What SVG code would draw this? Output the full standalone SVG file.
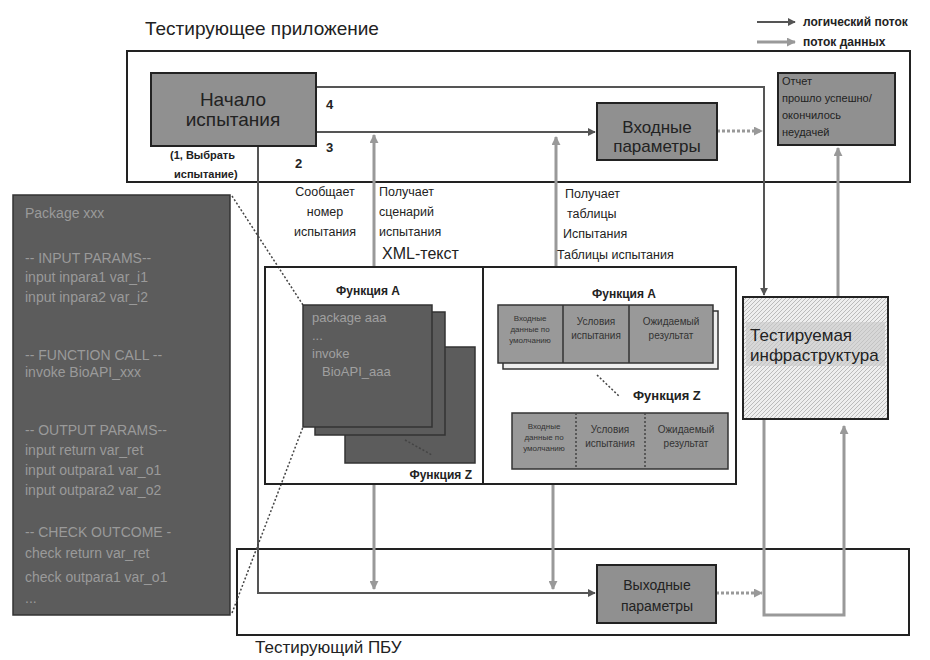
<svg xmlns="http://www.w3.org/2000/svg" width="930" height="660" viewBox="0 0 930 660">
<style>
text{font-family:"Liberation Sans",Arial,sans-serif;fill:#222}
.box{stroke:#222;stroke-width:2;fill:none}
.lg{stroke:#555;stroke-width:2;fill:none}
.df{stroke:#999;stroke-width:3;fill:none}
.dfd{stroke:#999;stroke-width:3;fill:none;stroke-dasharray:3 2}
.dot{stroke:#444;stroke-width:1.5;fill:none;stroke-dasharray:2 2}
.gray{fill:#909090;stroke:#222;stroke-width:2}
.dark{fill:#5c5c5c;stroke:#333;stroke-width:1.5}
.pk{fill:#9a9a9a;font-size:14px}
.pa{fill:#a0a0a0;font-size:13px}
.lbl{font-size:12.5px}
.b{font-weight:bold}
.tc{font-size:8px;text-anchor:middle;fill:#333}
.tc2{font-size:10px;text-anchor:middle;fill:#333}
</style>
<defs>
<marker id="al" viewBox="0 0 10 10" refX="9" refY="5" markerWidth="4" markerHeight="4" orient="auto"><path d="M0,0L10,5L0,10z" fill="#555"/></marker>
<marker id="ad" viewBox="0 0 10 10" refX="9" refY="5" markerWidth="3" markerHeight="3" orient="auto"><path d="M0,0L10,5L0,10z" fill="#999"/></marker>
<pattern id="hatch" width="4" height="4" patternUnits="userSpaceOnUse"><rect width="4" height="4" fill="#eee"/><path d="M0,4L4,0" stroke="#bbb" stroke-width="1"/></pattern>
</defs>

<text x="145" y="35" font-size="19">Тестирующее приложение</text>
<text x="255" y="653" font-size="17">Тестирующий ПБУ</text>

<g id="legend">
<line x1="757" y1="22" x2="795" y2="22" class="lg" marker-end="url(#al)"/>
<line x1="757" y1="42" x2="795" y2="42" class="df" marker-end="url(#ad)"/>
<text x="803" y="26" font-size="12" class="b">логический поток</text>
<text x="803" y="46" font-size="12" class="b">поток данных</text>
</g>

<g id="app-container"><rect x="127" y="51" width="783" height="131" class="box"/></g>
<g id="pbu-container"><rect x="237" y="549" width="672" height="86" class="box"/></g>

<g id="connectors">
<polyline points="316,87 764,87 764,295" class="lg" marker-end="url(#al)"/>
<line x1="316" y1="132" x2="595" y2="132" class="lg" marker-end="url(#al)"/>
<line x1="717" y1="131" x2="762" y2="131" class="dfd" marker-end="url(#ad)"/>
<line x1="374" y1="267" x2="374" y2="135" class="df" marker-end="url(#ad)"/>
<line x1="556" y1="267" x2="556" y2="137" class="df" marker-end="url(#ad)"/>
<line x1="838" y1="297" x2="838" y2="148" class="df" marker-end="url(#ad)"/>
<polyline points="258,146 258,593 595,593" class="lg" marker-end="url(#al)"/>
<line x1="374" y1="484" x2="374" y2="589" class="df" marker-end="url(#ad)"/>
<line x1="553" y1="484" x2="553" y2="589" class="df" marker-end="url(#ad)"/>
<line x1="716" y1="593" x2="762" y2="593" class="dfd" marker-end="url(#ad)"/>
<polyline points="764,419 764,615 844,615 844,426" class="df" marker-end="url(#ad)"/>
<line x1="232" y1="196" x2="303" y2="305" class="dot"/>
<line x1="232" y1="613" x2="303" y2="427" class="dot"/>
</g>

<g id="start">
<rect x="151" y="73" width="165" height="73" class="gray"/>
<text x="233" y="106" font-size="19" text-anchor="middle">Начало</text>
<text x="233" y="126" font-size="19" text-anchor="middle">испытания</text>
</g>
<text x="170" y="159" font-size="11" class="b">(1, Выбрать</text>
<text x="174" y="178" font-size="11" class="b">испытание)</text>
<text x="326" y="109" font-size="13" class="b">4</text>
<text x="326" y="152" font-size="13" class="b">3</text>
<text x="295" y="168" font-size="13" class="b">2</text>

<g id="input-params">
<rect x="597" y="103" width="120" height="57" class="gray"/>
<text x="657" y="133" font-size="17" text-anchor="middle">Входные</text>
<text x="657" y="152" font-size="17" text-anchor="middle">параметры</text>
</g>

<g id="report">
<rect x="778" y="73" width="117" height="72" class="gray"/>
<text x="782" y="85" font-size="11">Отчет</text>
<text x="782" y="102" font-size="11">прошло успешно/</text>
<text x="782" y="119" font-size="11">окончилось</text>
<text x="782" y="136" font-size="11">неудачей</text>
</g>

<text x="325" y="196" class="lbl" text-anchor="middle">Сообщает</text>
<text x="325" y="216" class="lbl" text-anchor="middle">номер</text>
<text x="325" y="236" class="lbl" text-anchor="middle">испытания</text>
<text x="379" y="196" class="lbl">Получает</text>
<text x="379" y="216" class="lbl">сценарий</text>
<text x="379" y="236" class="lbl">испытания</text>
<text x="382" y="259" font-size="16">XML-текст</text>
<text x="565" y="198" class="lbl">Получает</text>
<text x="567" y="218" class="lbl">таблицы</text>
<text x="563" y="238" class="lbl">Испытания</text>
<text x="557" y="259" class="lbl">Таблицы испытания</text>

<g id="scenario-box">
<rect x="265" y="267" width="471" height="217" class="box" stroke-width="1.5"/>
<line x1="483" y1="267" x2="483" y2="484" class="box" stroke-width="1.5"/>
</g>

<g id="scripts">
<text x="368" y="295" font-size="12" class="b" text-anchor="middle">Функция A</text>
<rect x="345" y="347" width="130" height="116" class="dark"/>
<rect x="315" y="312" width="130" height="123" class="dark"/>
<rect x="303" y="305" width="129" height="122" class="dark"/>
<line x1="405" y1="440" x2="432" y2="455" class="dot" stroke="#888"/>
<text x="312" y="322" class="pa">package aaa</text>
<text x="312" y="340" class="pa">...</text>
<text x="312" y="358" class="pa">invoke</text>
<text x="322" y="376" class="pa">BioAPI_aaa</text>
<text x="472" y="479" font-size="12" class="b" text-anchor="end">Функция Z</text>
</g>

<g id="tables">
<text x="624" y="298" font-size="12" class="b" text-anchor="middle">Функция A</text>
<rect x="503" y="311" width="215" height="58" fill="#eee" stroke="#333" stroke-width="1.5"/>
<rect x="498" y="305" width="215" height="58" fill="#999" stroke="#333" stroke-width="1.5"/>
<line x1="563" y1="305" x2="563" y2="363" stroke="#333" stroke-width="1.5"/>
<line x1="629" y1="305" x2="629" y2="363" stroke="#333" stroke-width="1.5"/>
<text x="530" y="321" class="tc">Входные</text>
<text x="530" y="332" class="tc">данные по</text>
<text x="530" y="343" class="tc">умолчанию</text>
<text x="596" y="325" class="tc2">Условия</text>
<text x="596" y="339" class="tc2">испытания</text>
<text x="671" y="325" class="tc2">Ожидаемый</text>
<text x="671" y="339" class="tc2">результат</text>
<line x1="597" y1="375" x2="620" y2="397" class="dot"/>
<text x="633" y="400" font-size="13" class="b">Функция Z</text>
<rect x="512" y="413" width="216" height="56" fill="#999" stroke="#333" stroke-width="1.5"/>
<line x1="576" y1="413" x2="576" y2="469" class="dot"/>
<line x1="645" y1="413" x2="645" y2="469" class="dot"/>
<text x="544" y="429" class="tc">Входные</text>
<text x="544" y="440" class="tc">данные по</text>
<text x="544" y="451" class="tc">умолчанию</text>
<text x="610" y="433" class="tc2">Условия</text>
<text x="610" y="447" class="tc2">испытания</text>
<text x="686" y="433" class="tc2">Ожидаемый</text>
<text x="686" y="447" class="tc2">результат</text>
</g>

<g id="infrastructure">
<rect x="743" y="297" width="145" height="122" fill="url(#hatch)" stroke="#222" stroke-width="2"/>
<rect x="746" y="322" width="139" height="44" fill="#c8c8c8" opacity="0.6"/>
<text x="750" y="341" font-size="17">Тестируемая</text>
<text x="750" y="361" font-size="17">инфраструктура</text>
</g>

<g id="package">
<rect x="13" y="195" width="217" height="420" class="dark"/>
<text x="25" y="218" class="pk">Package xxx</text>
<text x="25" y="263" class="pk">-- INPUT PARAMS--</text>
<text x="25" y="282" class="pk">input inpara1 var_i1</text>
<text x="25" y="302" class="pk">input inpara2 var_i2</text>
<text x="25" y="360" class="pk">-- FUNCTION CALL --</text>
<text x="25" y="377" class="pk">invoke BioAPI_xxx</text>
<text x="25" y="435" class="pk">-- OUTPUT PARAMS--</text>
<text x="25" y="455" class="pk">input return var_ret</text>
<text x="25" y="475" class="pk">input outpara1 var_o1</text>
<text x="25" y="495" class="pk">input outpara2 var_o2</text>
<text x="25" y="537" class="pk">-- CHECK OUTCOME -</text>
<text x="25" y="558" class="pk">check return var_ret</text>
<text x="25" y="582" class="pk">check outpara1 var_o1</text>
<text x="25" y="603" class="pk">...</text>
</g>

<g id="output-params">
<rect x="597" y="565" width="119" height="58" class="gray"/>
<text x="657" y="590" font-size="14" text-anchor="middle">Выходные</text>
<text x="657" y="611" font-size="14" text-anchor="middle">параметры</text>
</g>
</svg>
